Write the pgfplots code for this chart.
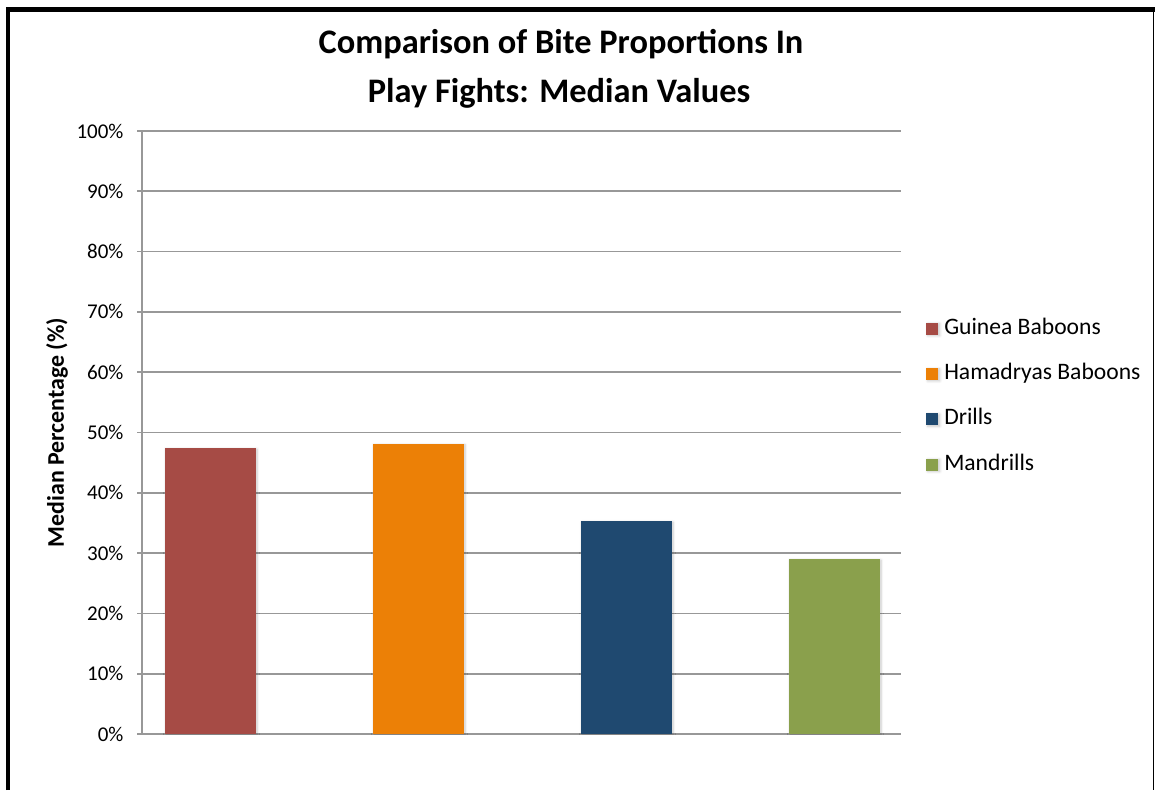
\documentclass[border=0pt]{standalone}
\usepackage{pgfplots}
\pgfplotsset{compat=1.18}
\usetikzlibrary{shadows.blur}
\usepackage{fontspec}
\setmainfont{Carlito}

\definecolor{guinea}{RGB}{166,75,69}
\definecolor{hamadryas}{RGB}{236,128,6}
\definecolor{drill}{RGB}{31,73,112}
\definecolor{mandrill}{RGB}{138,160,76}
\definecolor{gridgray}{RGB}{152,152,152}

% soft shadow under each bar
\tikzset{barshadow/.style={blur shadow={shadow xshift=1.5pt, shadow yshift=-1pt,
  shadow blur steps=6, shadow blur radius=2.5pt, shadow opacity=22}}}

\begin{document}
\begin{tikzpicture}[x=1pt,y=1pt]
\useasboundingbox (0,0) rectangle (1155,790);

% frame of the chart area
\draw[line width=4.5pt] (8,0) -- (8,780.5) -- (1155,780.5);
\draw[line width=1.8pt] (1153.5,780.5) -- (1153.5,0);

% title
\node[anchor=base, font=\bfseries\fontsize{34.4}{34.4}\selectfont] at (561,736.5) {Comparison of Bite Proportions In};
\node[anchor=base, font=\bfseries\fontsize{34.4}{34.4}\selectfont] at (559,687.5) {Play Fights: Median Values};

\begin{axis}[
  at={(142pt,56pt)}, anchor=south west,
  width=759pt, height=603pt, scale only axis,
  xmin=142, xmax=901, ymin=0, ymax=100,
  axis lines*=left,
  axis line style={gridgray, line width=1.6pt},
  ymajorgrids, grid style={gridgray, line width=1.6pt},
  xtick=\empty,
  ytick={0,10,20,30,40,50,60,70,80,90,100},
  yticklabels={0\%,10\%,20\%,30\%,40\%,50\%,60\%,70\%,80\%,90\%,100\%},
  yticklabel style={font=\fontsize{21}{21}\selectfont, text=black, xshift=-10pt},
  tick style={gridgray, line width=1.6pt},
  major tick length=5pt, tick align=outside,
  ylabel={\textbf{Median Percentage (\%)}},
  ylabel style={font=\fontsize{23.9}{23.9}\selectfont, at={(-0.112,0.5)}, anchor=center},
  ybar, bar width=91, bar shift=0pt,
  legend image code/.code={\fill[barshadow/.style={}, #1] (0pt,-6pt) rectangle (12pt,6pt);
    \path (16pt,0pt);},
  legend style={at={(1.033,0.5595)}, anchor=west, draw=none, fill=none,
    font=\fontsize{23.6}{23.6}\selectfont, inner sep=0pt, row sep=18.3pt,
    nodes={inner sep=2pt, text height=17pt, text depth=6pt}},
  legend cell align=left,
]
\addplot[fill=guinea, draw=none, barshadow] coordinates {(210,47.4)};
\addlegendentry{Guinea Baboons}
\addplot[fill=hamadryas, draw=none, barshadow] coordinates {(418,48.1)};
\addlegendentry{Hamadryas Baboons}
\addplot[fill=drill, draw=none, barshadow] coordinates {(626,35.3)};
\addlegendentry{Drills}
\addplot[fill=mandrill, draw=none, barshadow] coordinates {(834,29.0)};
\addlegendentry{Mandrills}
\end{axis}
\end{tikzpicture}
\end{document}
